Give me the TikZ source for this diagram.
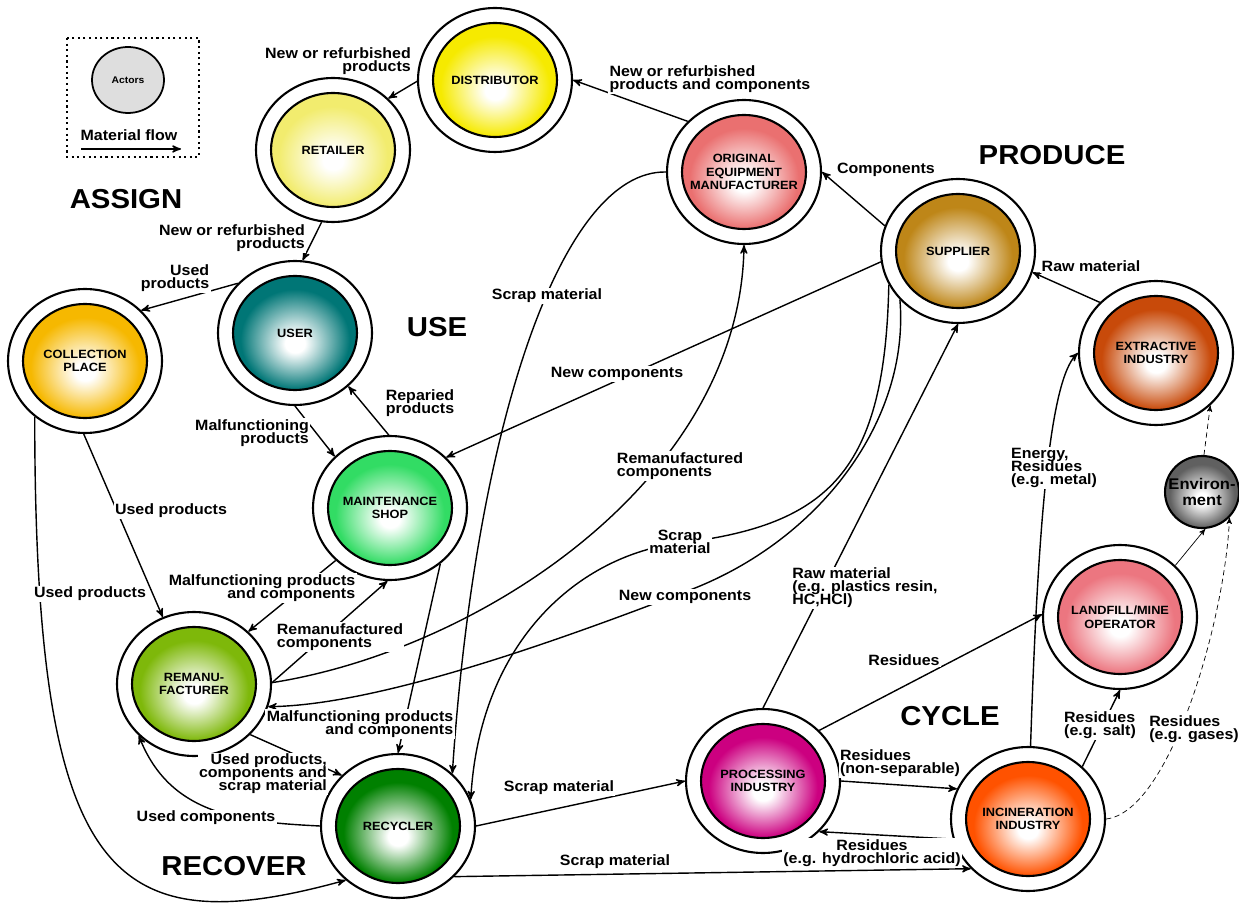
\documentclass[tikz,border=0pt]{standalone}
\usepackage{fontspec}
\setmainfont{Liberation Sans}[FakeStretch=1.07]
\usetikzlibrary{arrows,shapes.geometric}

\definecolor{distcol}{RGB}{246,234,0}
\definecolor{retcol}{RGB}{242,236,110}
\definecolor{oemcol}{RGB}{234,112,112}
\definecolor{supcol}{RGB}{190,134,24}
\definecolor{extcol}{RGB}{200,74,10}
\definecolor{usercol}{RGB}{0,118,118}
\definecolor{collcol}{RGB}{246,184,0}
\definecolor{maintcol}{RGB}{50,220,100}
\definecolor{remcol}{RGB}{126,184,10}
\definecolor{recycol}{RGB}{0,128,0}
\definecolor{proccol}{RGB}{204,0,128}
\definecolor{incincol}{RGB}{255,82,0}
\definecolor{landcol}{RGB}{236,118,128}
\definecolor{envcol}{RGB}{96,96,96}
\definecolor{legcol}{RGB}{222,222,222}

\colorlet{ballcol}{white}
\pgfdeclareradialshading[ballcol]{ballshade}{\pgfpoint{0bp}{-5bp}}{%
  color(0bp)=(white); color(4bp)=(white); color(22bp)=(ballcol); color(50bp)=(ballcol)}

\begin{document}
\begin{tikzpicture}[
    x = 0.02cm,
    y = -0.02cm,
    thick,
    >=stealth',
    actor/.style = {
      draw,
      fill = white,
      ellipse,
      line width = 1.2pt,
      inner sep = 0pt,
      minimum width = 3.08cm,
      minimum height = 2.88cm
    },
    ball/.style = {
      draw,
      ellipse,
      line width = 1.2pt,
      inner xsep = -14pt,
      inner ysep = -8pt,
      minimum width = 2.48cm,
      minimum height = 2.28cm,
      align = center,
      font = {\fontsize{6.8}{7.8}\selectfont\bfseries},
      /utils/exec = {\colorlet{ballcol}{#1}},
      shade,
      shading = ballshade
    },
    lab/.style = {
      fill = white,
      inner sep = 0.8pt,
      font = {\fontsize{8.5}{7.4}\selectfont\bfseries\lineskiplimit=-10pt}
    },
    stage/.style = {
      font = {\fontsize{15.6}{18}\selectfont\bfseries}
    },
    faint/.style = {
      thin,
      densely dashed
    }
  ]
  \useasboundingbox (0,0) rectangle (1239,911);

  \draw[dotted, line width = 1.2pt] (67,38) rectangle (199,157);
  \node[draw, ellipse, fill = legcol, line width = 1pt, minimum width = 1.44cm,
        minimum height = 1.32cm, font = {\fontsize{5.5}{6}\selectfont\bfseries}] (actors) at (128,80) {Actors};
  \node[lab] (flow) at (129,135) {Material flow};
  \coordinate (flowa) at (81,149);
  \coordinate (flowb) at (181,149);
  \draw[->] (flowa) -- (flowb);

  \node[actor] (dist) at (495,80) {};
  \node[ball = distcol] (distin) at (dist) {DISTRIBUTOR};
  \node[actor] (ret) at (333,150) {};
  \node[ball = retcol] (retin) at (ret) {RETAILER};
  \node[actor] (oem) at (744,172) {};
  \node[ball = oemcol] (oemin) at (oem) {ORIGINAL\\EQUIPMENT\\MANUFACTURER};
  \node[actor] (sup) at (958,251) {};
  \node[ball = supcol] (supin) at (sup) {SUPPLIER};
  \node[actor] (ext) at (1156,353) {};
  \node[ball = extcol] (extin) at (ext) {EXTRACTIVE\\INDUSTRY};
  \node[actor] (user) at (295,333) {};
  \node[ball = usercol] (userin) at (user) {USER};
  \node[actor] (coll) at (85,361) {};
  \node[ball = collcol] (collin) at (coll) {COLLECTION\\PLACE};
  \node[actor] (maint) at (390,508) {};
  \node[ball = maintcol] (maintin) at (maint) {MAINTENANCE\\SHOP};
  \node[actor] (reman) at (194,684) {};
  \node[ball = remcol] (remanin) at (reman) {REMANU-\\FACTURER};
  \node[actor] (recyc) at (398,826) {};
  \node[ball = recycol] (recycin) at (recyc) {RECYCLER};
  \node[actor] (proc) at (763,781) {};
  \node[ball = proccol] (procin) at (proc) {PROCESSING\\INDUSTRY};
  \node[actor] (incin) at (1028,819) {};
  \node[ball = incincol] (incinin) at (incin) {INCINERATION\\INDUSTRY};
  \node[actor] (land) at (1120,617) {};
  \node[ball = landcol] (landin) at (land) {LANDFILL/MINE\\OPERATOR};
  \node[ball = envcol, minimum width = 1.48cm, minimum height = 1.44cm,
        font = {\fontsize{8.8}{9.6}\selectfont\bfseries}] (env) at (1202,492) {Environ-\\ment};

  \node[stage] (assign) at (126,199) {ASSIGN};
  \node[stage] (use) at (437,327) {USE};
  \node[stage] (produce) at (1052,155) {PRODUCE};
  \node[stage] (cycle) at (950,716) {CYCLE};
  \node[stage] (recover) at (234,866) {RECOVER};

  \draw[->] (dist.181) -- (ret.43);
  \draw[->] (oem.138) -- (dist.0);
  \draw[->] (sup.161) -- (oem.0);
  \draw[->] (ext.138) -- (sup.344);
  \draw[->] (ret.261) -- (user.84);
  \draw[->] (user.139) -- (coll.42);
  \draw[->] (user.270) -- (maint.137);
  \draw[->] (maint.91) -- (user.315);
  \draw[->] (coll.269) -- (reman.115);
  \draw[->] (coll.228) .. controls (35,880) and (110,945) .. (recyc.226);
  \draw[->] (maint.224) -- (reman.44);
  \draw[->] (reman.1) -- (maint.268);
  \draw[->] (maint.312) -- (recyc.90);
  \draw[->] (sup.188) -- (maint.42);
  \draw[->] (oem.180) .. controls (560,170) and (475,430) .. (recyc.44);
  \draw[->] (reman.1) .. controls (480,650) and (740,480) .. (oem.270);
  \draw[->] (sup.206) .. controls (885,470) and (830,525) .. (680,543)
                      .. controls (580,555) and (480,640) .. (recyc.20);
  \draw[->] (sup.220) .. controls (910,420) and (820,540) .. (690,590)
                      .. controls (560,640) and (380,705) .. (reman.343);
  \draw[->] (reman.318) -- (recyc.138);
  \draw[->] (recyc.180) .. controls (240,822) and (170,815) .. (reman.223);
  \draw[->] (recyc.0) -- (proc.180);
  \draw[->] (recyc.318) -- (incin.221);
  \draw[->] (proc.90) -- (sup.270);
  \draw[->] (proc.42) -- (land.178);
  \draw[->] (proc.0) -- (incin.157);
  \draw[->] (incin.195) -- (proc.318);
  \draw[->] (incin.88) .. controls (1038,520) and (1050,380) .. (ext.180);
  \draw[->] (incin.44) -- (land.270);
  \draw[->, faint] (incin.0) .. controls (1170,812) and (1225,620) .. (env.317);
  \draw[->, thin] (land.43) -- (env.275);
  \draw[->, faint] (env.87) -- (ext.316);

  \node[lab, align = right] (ldistret) at (338,61) {New or refurbished\\products};
  \node[lab, align = left] (loemdist) at (710,79) {New or refurbished\\products and components};
  \node[lab] (lsupoem) at (886,170) {Components};
  \node[lab] (lextsup) at (1091,266) {Raw material};
  \node[lab, align = right] (lretuser) at (232,238) {New or refurbished\\products};
  \node[lab, align = right] (lusercoll) at (175,278) {Used\\products};
  \node[lab, align = right] (lusermaint) at (252,433) {Malfunctioning\\products};
  \node[lab, align = left] (lmaintuser) at (420,403) {Reparied\\products};
  \node[lab] (lcollreman) at (171,511) {Used products};
  \node[lab] (lcollrecyc) at (90,594) {Used products};
  \node[lab, align = right] (lmaintreman) at (262,588) {Malfunctioning products\\and components};
  \node[lab, align = left] (lremanmaint) at (340,637) {Remanufactured\\components};
  \node[lab, align = right] (lmaintrecyc) at (360,724) {Malfunctioning products\\and components};
  \node[lab, align = right] (lremanrecyc) at (263,774) {Used products,\\components and\\scrap material};
  \node[lab] (lrecycreman) at (206,818) {Used components};
  \node[lab] (lrecycproc) at (559,788) {Scrap material};
  \node[lab] (lrecycincin) at (615,862) {Scrap material};
  \node[lab] (lprocland) at (904,660) {Residues};
  \node[lab, align = left] (lprocincin) at (900,763) {Residues\\(non-separable)};
  \node[lab, align = center] (lincinproc) at (872,853) {Residues\\(e.g. hydrochloric acid)};
  \node[lab, align = left] (lincinland) at (1100,725) {Residues\\(e.g. salt)};
  \node[lab, align = left] (lincinenv) at (1194,729) {Residues\\(e.g. gases)};
  \node[lab, align = left] (lincinext) at (1054,468) {Energy,\\Residues\\(e.g. metal)};
  \node[lab, align = left] (lprocsup) at (865,588) {Raw material\\(e.g. plastics resin,\\HC,HCl)};
  \node[lab] (loemrecyc) at (547,296) {Scrap material};
  \node[lab] (lsupmaint) at (617,374) {New components};
  \node[lab, align = center] (lsuprecyc) at (680,542) {Scrap\\material};
  \node[lab] (lsupreman) at (685,597) {New components};
  \node[lab, align = left] (lremanoem) at (680,466) {Remanufactured\\components};
\end{tikzpicture}
\end{document}
